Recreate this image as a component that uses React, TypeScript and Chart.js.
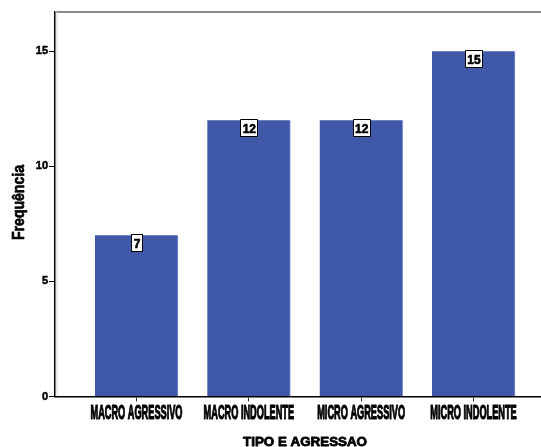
import React, { useEffect, useRef } from 'react';
import { Chart, registerables } from 'chart.js';

Chart.register(...registerables);

const categories = ['MACRO AGRESSIVO', 'MACRO INDOLENTE', 'MICRO AGRESSIVO', 'MICRO INDOLENTE'];
const frequencies = [7, 12, 12, 15];
const yTicks = [0, 5, 10, 15];
const yTitle = 'Frequência';
const xTitle = 'TIPO E AGRESSAO';

const FONT = "'Liberation Sans', Arial, Helvetica, sans-serif";

export default function App() {
  const ref = useRef<HTMLCanvasElement>(null);

  useEffect(() => {
    const canvas = ref.current;
    if (!canvas) return;

    const heavyText = (ctx: any, txt: string, x: number, y: number, lw: number) => {
      ctx.fillText(txt, x, y);
      ctx.lineWidth = lw;
      ctx.strokeStyle = '#000';
      ctx.lineJoin = 'round';
      ctx.strokeText(txt, x, y);
    };

    const overlay = {
      id: 'overlay',
      afterDatasetsDraw(chart: any) {
        const ctx = chart.ctx;
        const meta = chart.getDatasetMeta(0);
        ctx.save();
        ctx.font = `bold 12px ${FONT}`;
        meta.data.forEach((el: any, i: number) => {
          const txt = String(frequencies[i]);
          const w = Math.round(ctx.measureText(txt).width + 4);
          const h = 17;
          const x = Math.round(el.x - w / 2);
          const y = Math.round(el.y - 1);
          ctx.fillStyle = '#fff';
          ctx.fillRect(x, y, w, h);
          ctx.strokeStyle = '#000';
          ctx.lineWidth = 1;
          ctx.strokeRect(x + 0.5, y + 0.5, w, h);
          ctx.fillStyle = '#000';
          ctx.textAlign = 'center';
          ctx.textBaseline = 'alphabetic';
          heavyText(ctx, txt, el.x + 0.5, y + 13.5, 0.6);
        });
        ctx.restore();
      },
      afterDraw(chart: any) {
        const ctx = chart.ctx;
        const area = chart.chartArea;
        ctx.save();
        // top frame line
        ctx.strokeStyle = '#8a8a8a';
        ctx.lineWidth = 2;
        ctx.beginPath();
        ctx.moveTo(area.left, area.top);
        ctx.lineTo(area.right, area.top);
        ctx.stroke();
        // light shadow next to y axis
        ctx.strokeStyle = '#d8d8d8';
        ctx.lineWidth = 1;
        ctx.beginPath();
        ctx.moveTo(area.left + 2, area.top);
        ctx.lineTo(area.left + 2, area.bottom - 1);
        ctx.stroke();

        // x category labels (condensed)
        const xs = chart.scales.x;
        ctx.fillStyle = '#000';
        ctx.font = `bold 20px ${FONT}`;
        const sx = 92 / ctx.measureText(categories[0]).width;
        categories.forEach((c, i) => {
          const px = xs.getPixelForValue(i);
          ctx.save();
          ctx.translate(px, 419);
          ctx.scale(sx, 1);
          ctx.textAlign = 'center';
          ctx.textBaseline = 'alphabetic';
          heavyText(ctx, c, 0, 0, 1.2);
          ctx.restore();
        });

        // x title
        ctx.save();
        ctx.font = `bold 13.5px ${FONT}`;
        const tw = ctx.measureText(xTitle).width;
        ctx.translate((area.left + area.right) / 2, 446.3);
        ctx.scale(124 / tw, 1);
        ctx.textAlign = 'center';
        ctx.textBaseline = 'alphabetic';
        ctx.fillStyle = '#000';
        heavyText(ctx, xTitle, 0, 0, 0.8);
        ctx.restore();

        // y title
        ctx.save();
        ctx.translate(20, (area.top + area.bottom) / 2 - 1.75);
        ctx.rotate(-Math.PI / 2);
        ctx.font = `bold 16px ${FONT}`;
        const s = 75 / ctx.measureText(yTitle).width;
        ctx.scale(s, 1);
        ctx.textAlign = 'center';
        ctx.textBaseline = 'middle';
        ctx.fillStyle = '#000';
        heavyText(ctx, yTitle, 0, 0, 0.7);
        ctx.restore();

        ctx.restore();
      },
    };

    const chart = new Chart(canvas, {
      type: 'bar',
      data: {
        datasets: [
          {
            data: categories.map((_, i) => ({ x: i, y: frequencies[i] })),
            backgroundColor: '#3f58a8',
            borderColor: '#8294d2',
            borderWidth: { top: 0, left: 0, bottom: 0, right: 1 },
            borderSkipped: false,
            barThickness: 83,
          } as any,
        ],
      },
      options: {
        responsive: false,
        animation: false,
        layout: { padding: { left: 0, right: 20, top: 12, bottom: 0 } },
        plugins: {
          legend: { display: false },
          tooltip: { enabled: false },
        },
        scales: {
          x: {
            type: 'linear',
            min: -0.7255,
            max: 3.7255,
            offset: false,
            afterBuildTicks: (s: any) => {
              s.ticks = categories.map((_, i) => ({ value: i }));
            },
            afterFit: (s: any) => {
              s.height = 63.5;
            },
            grid: {
              display: true,
              offset: false,
              drawOnChartArea: false,
              drawTicks: true,
              tickLength: 5,
              color: '#333',
              lineWidth: 1,
            },
            border: { display: true, color: '#000', width: 1.5 },
            ticks: {
              color: 'rgba(0,0,0,0)',
              autoSkip: false,
              maxRotation: 0,
              font: { size: 8 },
              callback: (v: any) => categories[v] ?? '',
            },
            title: { display: false, text: xTitle },
          } as any,
          y: {
            min: 0,
            max: 16.7,
            afterBuildTicks: (s: any) => {
              s.ticks = yTicks.map((v) => ({ value: v }));
            },
            afterFit: (s: any) => {
              s.width = 55;
            },
            grid: {
              display: true,
              drawOnChartArea: false,
              drawTicks: true,
              tickLength: 6,
              color: '#000',
              lineWidth: 1,
            },
            border: { display: true, color: '#000', width: 1.5 },
            ticks: {
              color: '#000',
              padding: 1,
              textStrokeColor: '#000',
              textStrokeWidth: 0.5,
              font: { family: FONT, size: 11, weight: 'bold' },
              callback: (v: any) => String(v),
            },
          } as any,
        },
      },
      plugins: [overlay],
    });

    return () => chart.destroy();
  }, []);

  return (
    <div
      style={{
        position: 'fixed',
        left: 0,
        top: 0,
        width: 541,
        height: 447,
        overflow: 'hidden',
        background: '#fff',
      }}
    >
      <canvas ref={ref} width={575} height={460} style={{ display: 'block' }} />
    </div>
  );
}
